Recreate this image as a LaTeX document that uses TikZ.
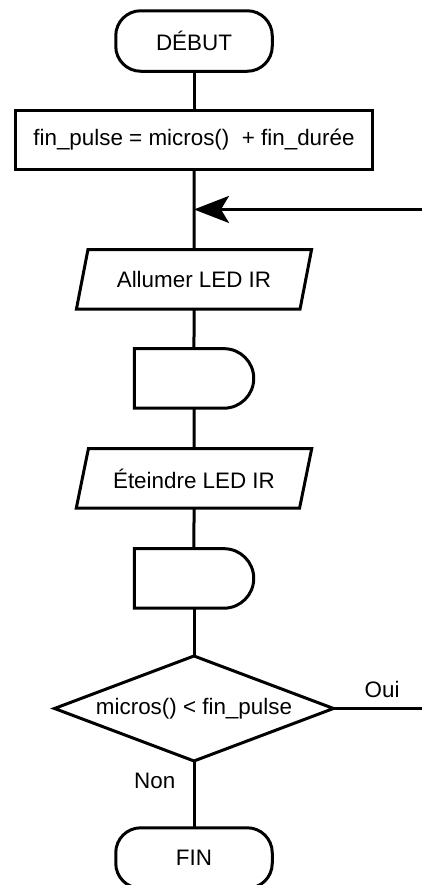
\documentclass[tikz,border=0pt]{standalone}
\usepackage{fontspec}
\setmainfont{Liberation Sans}
\usepackage{tikz}
\usetikzlibrary{shapes.geometric, positioning, arrows.meta, calc}
\tikzset{
	every node/.style={font=\fontsize{11.2}{13.4}\selectfont, outer sep=0pt},
	every path/.style={line width=1.5pt},
	node distance=19.75pt,
	terminal/.style={draw, rounded corners=12.5pt, minimum width=78.25pt, minimum height=30.25pt},
	process/.style={draw, minimum width=178.75pt, minimum height=29.25pt},
	io/.style={draw, trapezium, trapezium left angle=73, trapezium right angle=107, trapezium stretches=true, minimum width=118.25pt, minimum height=29.75pt},
	delaybox/.style={minimum width=59.75pt, minimum height=29.75pt, inner sep=0pt},
	decision/.style={draw, diamond, aspect=2.66, inner sep=0pt, minimum width=139.5pt, minimum height=52.5pt},
}
% delay symbol drawn round an empty node
\newcommand{\delayshape}[1]{%
	\draw (#1.south west) -- (#1.north west) -- ([xshift=-14.875pt]#1.north east)
		arc[start angle=90, end angle=-90, radius=14.875pt] -- cycle;}

\begin{document}
\begin{tikzpicture}
			\useasboundingbox (0,0) rectangle (211pt,-442.5pt);
			\node [terminal] (START) at (97pt,-20.5pt) {DÉBUT};
			\node [process, below=of START] (INITpulse) {fin\_pulse = micros()\ \ + fin\_durée};
			\coordinate [below=20.1pt of INITpulse] (LOOP);
			\node [io, below=20.1pt of LOOP] (LEDon) {Allumer LED IR};
			\node [delaybox, below=of LEDon] (WAITon) {};
			\node [io, below=20.25pt of WAITon] (LEDoff) {Éteindre LED IR};
			\node [delaybox, below=20.25pt of LEDoff] (WAIToff) {};
			\node [decision, below=23.9pt of WAIToff] (TESTpulse) {micros() < fin\_pulse};
			\node [terminal, below=33.4pt of TESTpulse] (END) {FIN};
			\coordinate (BACKin) at (211pt,|-LOOP);
			\coordinate (OUIout) at (211pt,|-TESTpulse);
			
			\delayshape{WAITon}
			\delayshape{WAIToff}
			
			\draw (START) -- (INITpulse);
			\draw (INITpulse) -- (LOOP) -- (LEDon);
			\draw (LEDon) -- (WAITon);
			\draw (WAITon) -- (LEDoff);
			\draw (LEDoff) -- (WAIToff);
			\draw (WAIToff) -- (TESTpulse);
			\draw (TESTpulse) -- node[pos=0.3, left=6pt]{Non} (END);
			\draw (TESTpulse.east) -- node[pos=0.55, above=2pt]{Oui} (OUIout);
			\draw [-{Stealth[length=17.5pt, width=13.5pt, inset=4pt]}] (BACKin) -- (LOOP);
			
		\end{tikzpicture}
\end{document}
